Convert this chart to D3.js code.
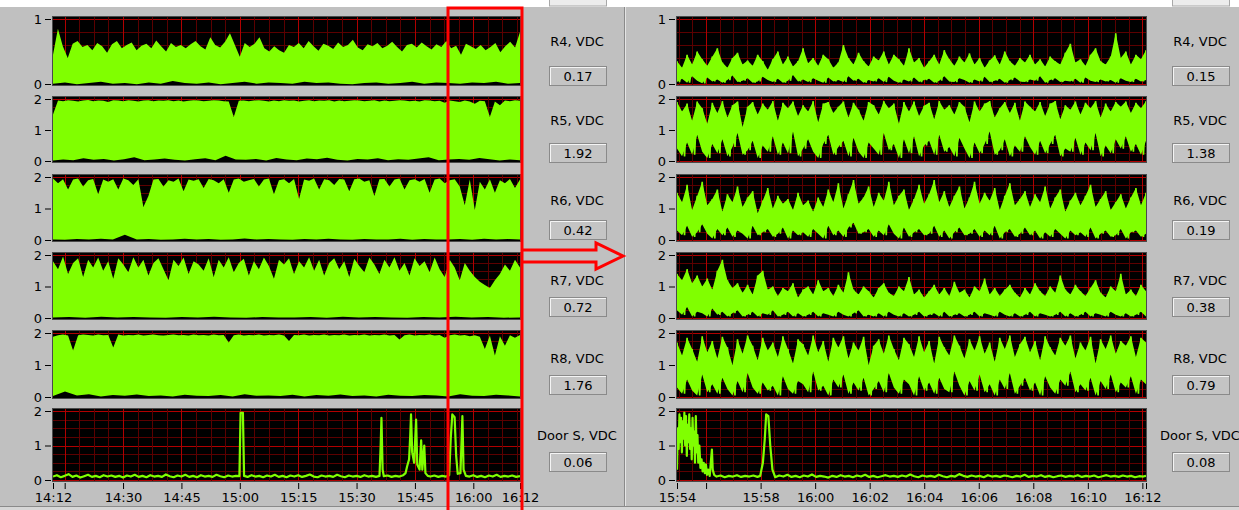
<!DOCTYPE html>
<html><head><meta charset="utf-8">
<script src="https://cdn.jsdelivr.net/npm/d3@7"></script>
<style>
html,body{margin:0;padding:0;background:#c0c0c0;overflow:hidden}
svg{display:block;font-family:"DejaVu Sans",sans-serif}
</style></head><body>
<svg id="chart" width="1239" height="510"></svg>
<script>
// ---------------- DATA ----------------
const seriesNames = ["R4, VDC","R5, VDC","R6, VDC","R7, VDC","R8, VDC","Door S, VDC"];
const leftReadings  = ["0.17","1.92","0.42","0.72","1.76","0.06"];
const rightReadings = ["0.15","1.38","0.19","0.38","0.79","0.08"];
const yMaxes = [1,2,2,2,2,2];
const leftTickLabels  = ["14:12","14:30","14:45","15:00","15:15","15:30","15:45","16:00","16:12"];
const rightTickLabels = ["15:54","15:58","16:00","16:02","16:04","16:06","16:08","16:10","16:12"];

// left (14:12 - 16:12) envelopes: upper edge of green, and black specks at the floor
const r4LeftHi = [0.45,0.85,0.58,0.40,0.62,0.66,0.57,0.60,0.52,0.63,0.58,0.48,0.61,0.66,0.55,0.60,0.64,0.52,0.59,0.62,0.55,0.67,0.58,0.50,0.63,0.57,0.60,0.55,0.61,0.66,0.58,0.53,0.72,0.60,0.56,0.65,0.78,0.60,0.42,0.63,0.57,0.62,0.72,0.55,0.50,0.58,0.52,0.48,
0.60,0.57,0.63,0.55,0.66,0.58,0.51,0.62,0.59,0.54,0.64,0.57,0.60,0.68,0.56,0.52,0.61,0.58,0.63,0.55,0.59,0.65,0.57,0.50,0.60,0.62,0.56,0.64,0.58,0.53,0.61,0.57,0.66,0.55,0.59,0.45,0.62,0.58,0.54,0.60,0.52,0.57,0.63,0.49,0.58,0.65,0.56,0.80];
const r4LeftLo = [0.02,0.04,0.01,0.03,0.05,0.02,0.03,0.01,0.04,0.02,0.06,0.03,0.02,0.04,0.01,0.03,0.05,0.02,0.04,0.03,0.02,0.05,0.03,0.04,0.02,0.01,0.03,0.04,0.02,0.03,0.05,0.02,0.04,0.03,0.02,0.04,0.03,0.05,0.02,0.03];
const r5LeftHi = [1.50,1.95,1.93,1.96,1.94,1.92,1.95,1.97,1.93,1.95,1.94,1.90,1.96,1.95,1.93,1.96,1.94,1.92,1.95,1.96,1.93,1.95,1.94,1.96,1.93,1.95,1.92,1.94,1.96,1.95,1.93,1.94,1.96,1.95,1.93,1.92,1.42,1.94,1.95,1.93,1.95,1.96,1.94,1.92,1.95,1.93,1.96,1.94,1.95,1.92,
1.94,1.96,1.93,1.95,1.94,1.96,1.92,1.95,1.93,1.94,1.96,1.95,1.93,1.94,1.96,1.92,1.95,1.93,1.94,1.96,1.95,1.93,1.94,1.92,1.96,1.95,1.93,1.94,1.88,1.95,1.93,1.90,1.95,1.92,1.85,1.94,1.93,1.42,1.92,1.80,1.95,1.93,1.96,1.94];
const r5LeftLo = [0.05,0.08,0.06,0.12,0.07,0.10,0.05,0.09,0.15,0.06,0.08,0.11,0.07,0.05,0.09,0.12,0.06,0.20,0.08,0.07,0.10,0.05,0.13,0.08,0.06,0.11,0.09,0.14,0.07,0.05,0.10,0.08,0.12,0.06,0.09,0.07,0.11,0.15,0.06,0.08,0.10,0.07,0.13,0.09,0.05,0.08,0.06];
const r6LeftHi = [1.95,1.80,1.93,1.60,1.92,1.95,1.70,1.90,1.94,1.45,1.92,1.85,1.93,1.60,1.95,1.90,1.75,1.93,1.05,1.40,1.92,1.94,1.70,1.90,1.85,1.95,1.55,1.92,1.88,1.93,1.65,1.94,1.90,1.80,1.93,1.50,1.92,1.95,1.85,1.90,1.94,1.70,1.92,1.95,1.45,1.90,1.93,1.80,1.94,1.30,
1.92,1.88,1.95,1.60,1.93,1.90,1.75,1.94,1.92,1.55,1.93,1.95,1.85,1.90,1.40,1.93,1.94,1.70,1.92,1.95,1.60,1.90,1.93,1.85,1.94,1.50,1.92,1.95,1.80,1.90,1.93,1.70,1.10,1.92,0.95,1.85,1.60,1.93,1.50,1.90,1.80,1.94,1.65,1.92];
const r6LeftLo = [0.05,0.04,0.06,0.05,0.07,0.05,0.20,0.05,0.06,0.04,0.05,0.07,0.05,0.06,0.04,0.05,0.08,0.05,0.06,0.05,0.04,0.06,0.05,0.07,0.05,0.04,0.06,0.05,0.05,0.07,0.04,0.06,0.05,0.05,0.06,0.04,0.07,0.05,0.06,0.05];
const r7LeftHi = [1.80,1.55,1.95,1.40,1.75,1.90,1.30,1.85,1.60,1.92,1.50,1.80,1.25,1.90,1.70,1.45,1.93,1.60,1.85,1.35,1.75,1.90,1.55,1.20,1.85,1.65,1.92,1.40,1.80,1.70,1.50,1.90,1.30,1.85,1.60,1.93,1.45,1.75,1.88,1.35,1.80,1.55,1.92,1.65,1.25,1.85,1.70,1.90,1.40,1.80,
1.60,1.93,1.50,1.85,1.35,1.75,1.90,1.55,1.80,1.30,1.88,1.65,1.45,1.92,1.70,1.40,1.85,1.60,1.93,1.50,1.75,1.35,1.90,1.65,1.80,1.45,1.92,1.55,1.30,1.85,1.60,1.20,1.75,1.50,1.30,1.15,1.05,0.95,1.20,1.40,1.70,1.50,1.85,1.60];
const r7LeftLo = [0.05,0.06,0.04,0.07,0.05,0.06,0.05,0.04,0.06,0.05,0.07,0.05,0.04,0.06,0.05,0.05,0.06,0.04,0.07,0.05,0.06,0.05,0.04,0.06,0.05,0.07,0.05,0.06,0.04,0.05];
const r8LeftHi = [1.88,1.93,1.95,1.92,1.45,1.93,1.95,1.94,1.92,1.95,1.93,1.94,1.55,1.95,1.92,1.94,1.93,1.95,1.92,1.94,1.95,1.93,1.92,1.94,1.95,1.93,1.94,1.92,1.95,1.93,1.94,1.92,1.95,1.93,1.94,1.70,1.93,1.95,1.92,1.94,1.93,1.95,1.92,1.94,1.93,1.95,1.92,1.75,1.94,1.93,
1.95,1.92,1.94,1.93,1.95,1.92,1.94,1.93,1.95,1.92,1.94,1.93,1.95,1.92,1.94,1.93,1.95,1.92,1.94,1.80,1.93,1.95,1.92,1.94,1.93,1.95,1.92,1.94,1.85,1.93,1.95,1.92,1.94,1.90,1.93,1.88,1.50,1.92,1.30,1.90,1.60,1.93,1.85,1.94];
const r8LeftLo = [0.06,0.20,0.08,0.12,0.05,0.09,0.07,0.11,0.06,0.08,0.05,0.10,0.07,0.06,0.09,0.05,0.12,0.07,0.08,0.06,0.10,0.05,0.09,0.07,0.11,0.06,0.08,0.05,0.10,0.07,0.06,0.09,0.08,0.05,0.12,0.07,0.06,0.10,0.08,0.05];
// Door S left: [minutes after 14:12, volts]
const doorLeft = [[0,0.10],[1,0.14],[2,0.08],[3,0.12],[4,0.17],[5,0.09],[6,0.13],[7,0.07],[8,0.11],[9,0.15],
[10,0.09],[11,0.12],[12,0.08],[13,0.14],[14,0.10],[15,0.13],[16,0.09],[17,0.12],[18,0.07],[19,0.13],
[20,0.10],[21,0.15],[22,0.09],[23,0.12],[24,0.08],[25,0.14],[26,0.10],[27,0.12],[28,0.09],[29,0.16],
[30,0.11],[31,0.08],[32,0.13],[33,0.10],[34,0.15],[35,0.09],[36,0.12],[37,0.08],[38,0.14],[39,0.10],
[40,0.12],[41,0.09],[42,0.15],[43,0.11],[44,0.08],[45,0.13],[46,0.10],[47,0.12],[47.9,0.11],[48.2,1.95],[48.8,1.95],[49.1,0.12],
[50,0.09],[51,0.14],[52,0.10],[53,0.12],[54,0.08],[55,0.13],[56,0.10],[57,0.15],[58,0.09],[59,0.12],
[60,0.08],[61,0.13],[62,0.10],[63,0.14],[64,0.09],[65,0.12],[66,0.16],[67,0.10],[68,0.08],[69,0.13],
[70,0.10],[71,0.12],[72,0.09],[73,0.15],[74,0.11],[75,0.08],[76,0.13],[77,0.10],[78,0.12],[79,0.09],
[80,0.14],[81,0.10],[82,0.12],[83,0.09],[83.9,0.12],[84.2,1.0],[84.4,1.8],[84.7,0.3],[85.0,0.11],
[86,0.13],[87,0.09],[88,0.12],[89,0.10],[90,0.14],[90.6,0.2],[91.0,0.4],[91.5,0.6],[91.8,1.3],[92.0,1.9],[92.3,0.8],[92.8,0.5],[93.3,1.75],[93.6,0.45],[94.2,0.3],[94.6,1.15],[94.9,0.3],[95.4,1.0],[95.7,0.2],[96.3,0.12],
[97,0.10],[98,0.13],[99,0.09],[100,0.12],[101,0.10],[101.8,0.14],[102.2,1.2],[102.6,1.9],[103.2,1.82],[103.6,0.7],[104.0,0.18],[104.7,0.2],[105.2,1.85],[105.5,0.3],[106.1,0.12],
[107,0.10],[108,0.14],[109,0.09],[110,0.12],[111,0.08],[112,0.13],[113,0.10],[114,0.15],[115,0.09],[116,0.12],[117,0.10],[118,0.13],[119,0.09],[120,0.11]];

// right (15:54:56 - 16:12:08) envelopes: max and min of the fast signal
const r4RightHi = [0.35,0.25,0.45,0.30,0.50,0.38,0.28,0.42,0.55,0.33,0.25,0.40,0.48,0.30,0.36,0.28,0.45,0.35,0.22,0.38,0.50,0.30,0.42,0.27,0.35,0.55,0.32,0.40,0.28,0.45,0.38,0.25,0.33,0.60,0.40,0.30,0.48,0.35,0.27,0.42,0.36,0.50,0.30,0.45,0.38,0.28,0.55,0.33,0.40,0.25,
0.35,0.45,0.30,0.52,0.38,0.28,0.42,0.33,0.47,0.30,0.40,0.25,0.36,0.44,0.30,0.50,0.35,0.28,0.40,0.33,0.45,0.30,0.38,0.27,0.42,0.35,0.30,0.48,0.62,0.33,0.38,0.28,0.45,0.55,0.35,0.30,0.42,0.78,0.40,0.50,0.30,0.45,0.38,0.52];
const r4RightLo = [0.03,0.08,0.02,0.12,0.05,0.01,0.10,0.04,0.07,0.02,0.06,0.13,0.03,0.05,0.09,0.02,0.04,0.11,0.06,0.03,0.08,0.02,0.05,0.14,0.04,0.07,0.03,0.09,0.05,0.02,0.10,0.04,0.06,0.03,0.12,0.05,0.08,0.02,0.06,0.04,0.09,0.03,0.11,0.05,0.02,0.07,0.04,0.10,0.03,0.06,
0.08,0.02,0.05,0.12,0.04,0.03,0.09,0.06,0.02,0.07,0.04,0.11,0.03,0.05,0.08,0.02,0.06,0.10,0.04,0.03,0.07,0.05,0.12,0.02,0.06,0.09,0.03,0.05,0.04,0.08,0.02,0.10,0.05,0.03,0.07,0.04,0.06,0.02,0.09,0.05,0.03,0.08,0.04,0.06];
const r5RightHi = [1.90,1.60,1.85,1.30,1.92,1.70,1.20,1.88,1.55,1.93,1.40,1.80,1.92,1.10,1.75,1.90,1.50,1.85,1.65,1.93,1.30,1.88,1.70,1.92,1.45,1.80,1.60,1.93,1.25,1.85,1.90,1.55,1.75,1.92,1.40,1.88,1.65,1.30,1.90,1.80,1.50,1.93,1.70,1.85,1.20,1.90,1.60,1.92,1.45,1.78,
1.88,1.35,1.93,1.65,1.80,1.50,1.90,1.75,1.25,1.92,1.60,1.85,1.93,1.40,1.70,1.90,1.55,1.88,1.30,1.92,1.75,1.60,1.90,1.45,1.85,1.93,1.35,1.80,1.65,1.92,1.50,1.88,1.70,1.93,1.40,1.85,1.60,1.90,1.75,1.92,1.55,1.88,1.70,1.93];
const r5RightLo = [0.40,0.15,0.60,0.20,0.85,0.30,0.10,0.55,0.25,0.70,0.15,0.45,0.90,0.20,0.35,0.65,0.10,0.50,0.30,0.80,0.20,0.60,0.25,0.95,0.15,0.40,0.70,0.30,0.10,0.55,0.85,0.20,0.45,0.65,0.15,0.75,0.30,0.10,0.60,0.40,0.20,0.90,0.35,0.55,0.10,0.70,0.25,0.80,0.15,0.50,
0.65,0.20,0.85,0.30,0.45,0.15,0.75,0.40,0.10,0.60,0.25,0.55,0.95,0.20,0.35,0.70,0.15,0.50,0.30,0.80,0.45,0.20,0.65,0.25,0.55,0.85,0.15,0.40,0.30,0.75,0.20,0.60,0.35,0.90,0.15,0.50,0.25,0.70,0.40,0.80,0.30,0.55,0.20,0.65];
const r6RightHi = [1.50,1.20,1.75,0.95,1.40,1.85,1.10,1.30,1.60,0.90,1.45,1.20,1.70,1.05,1.35,1.55,0.85,1.25,1.65,1.00,1.40,1.15,1.30,0.95,1.50,1.10,1.25,0.90,1.35,1.05,1.60,1.20,1.80,1.00,1.45,1.90,1.15,1.35,1.70,1.05,1.50,1.25,1.85,1.10,1.40,1.60,0.95,1.30,1.75,1.15,
1.45,1.90,1.20,1.55,1.05,1.40,1.70,1.00,1.35,1.85,1.15,1.50,1.25,1.65,0.95,1.40,1.80,1.10,1.30,1.55,1.05,1.45,1.20,1.70,1.00,1.35,1.60,0.90,1.25,1.50,1.10,1.40,1.75,1.05,1.30,1.55,0.95,1.20,1.45,1.00,1.35,1.65,1.10,1.50];
const r6RightLo = [0.30,0.15,0.45,0.10,0.25,0.50,0.20,0.05,0.35,0.15,0.40,0.10,0.30,0.20,0.05,0.45,0.15,0.25,0.35,0.10,0.20,0.40,0.05,0.30,0.15,0.25,0.10,0.35,0.20,0.05,0.45,0.15,0.30,0.10,0.40,0.55,0.20,0.25,0.35,0.10,0.30,0.15,0.50,0.20,0.05,0.40,0.10,0.25,0.35,0.15,
0.20,0.45,0.10,0.30,0.05,0.25,0.40,0.15,0.20,0.35,0.10,0.30,0.15,0.45,0.05,0.25,0.35,0.10,0.20,0.40,0.15,0.30,0.05,0.25,0.10,0.35,0.20,0.05,0.30,0.15,0.25,0.10,0.40,0.05,0.20,0.30,0.10,0.15,0.35,0.05,0.25,0.30,0.10,0.20];
const r7RightHi = [1.40,1.20,1.55,1.10,1.35,1.00,1.25,0.90,1.50,1.85,1.20,0.95,1.10,0.80,1.05,0.75,1.35,1.50,0.90,1.00,0.70,0.95,0.85,1.10,0.65,0.90,1.00,0.75,1.20,0.85,0.95,0.70,1.05,0.80,1.45,0.90,0.75,1.00,0.85,0.65,0.95,1.10,0.80,0.70,1.00,0.85,1.30,0.75,0.90,0.65,
0.85,1.05,0.75,0.95,0.70,1.15,0.80,0.90,0.65,1.00,0.85,1.25,0.75,0.95,0.70,0.90,1.05,0.80,0.65,0.95,0.75,1.10,0.85,0.70,1.00,0.80,1.35,0.90,0.75,1.05,0.85,0.70,0.95,1.20,0.80,0.65,1.00,0.85,1.40,0.75,0.90,0.70,1.05,0.85];
const r7RightLo = [0.25,0.10,0.35,0.05,0.20,0.15,0.05,0.30,0.10,0.20,0.05,0.15,0.25,0.05,0.10,0.20,0.05,0.15,0.10,0.25,0.05,0.10,0.20,0.05,0.15,0.05,0.10,0.20,0.05,0.15,0.10,0.05,0.20,0.10,0.05,0.15,0.25,0.05,0.10,0.05,0.15,0.05,0.20,0.10,0.05,0.15,0.05,0.10,0.20,0.05,
0.10,0.15,0.05,0.20,0.05,0.10,0.15,0.05,0.10,0.20,0.05,0.15,0.10,0.05,0.20,0.10,0.05,0.15,0.05,0.10,0.20,0.05,0.15,0.10,0.05,0.10,0.20,0.05,0.15,0.05,0.10,0.20,0.05,0.15,0.10,0.05,0.20,0.10,0.05,0.15,0.05,0.10,0.20,0.05];
const r8RightHi = [1.70,1.30,1.85,1.50,1.10,1.90,1.40,1.75,1.20,1.88,1.55,1.00,1.80,1.35,1.92,1.60,1.15,1.85,1.45,1.70,1.25,1.90,1.50,1.05,1.80,1.65,1.30,1.92,1.40,1.75,1.10,1.85,1.55,1.90,1.20,1.70,1.45,1.88,1.00,1.60,1.80,1.35,1.92,1.50,1.15,1.85,1.65,1.25,1.90,1.40,
1.75,1.05,1.88,1.55,1.30,1.92,1.60,1.20,1.80,1.45,1.90,1.35,1.70,1.10,1.85,1.50,1.92,1.25,1.65,1.88,1.40,1.75,1.15,1.90,1.55,1.30,1.85,1.60,1.92,1.20,1.70,1.45,1.88,1.05,1.80,1.50,1.92,1.35,1.75,1.60,1.90,1.25,1.85,1.70];
const r8RightLo = [0.30,0.10,0.55,0.20,0.05,0.70,0.15,0.40,0.10,0.60,0.25,0.05,0.50,0.15,0.75,0.30,0.10,0.45,0.20,0.35,0.05,0.65,0.25,0.10,0.50,0.40,0.15,0.80,0.20,0.35,0.05,0.55,0.30,0.70,0.10,0.45,0.20,0.60,0.05,0.25,0.50,0.15,0.75,0.30,0.10,0.55,0.40,0.05,0.65,0.20,
0.45,0.10,0.60,0.25,0.15,0.80,0.35,0.05,0.50,0.20,0.70,0.15,0.40,0.05,0.55,0.25,0.75,0.10,0.35,0.60,0.20,0.45,0.05,0.65,0.30,0.10,0.55,0.35,0.80,0.15,0.40,0.20,0.60,0.05,0.50,0.25,0.70,0.15,0.45,0.30,0.65,0.10,0.55,0.40];
// Door S right: [minutes after 15:54:56, volts]
const doorRight = [[0,0.3],[0.03,1.5],[0.06,0.9],[0.09,1.9],[0.12,1.1],[0.15,1.8],[0.18,0.8],[0.21,1.7],[0.24,1.2],[0.27,1.95],[0.30,1.0],[0.33,1.85],[0.36,0.7],[0.39,1.6],[0.42,1.1],[0.45,1.9],[0.48,0.9],[0.51,1.5],[0.54,0.6],[0.57,1.8],[0.60,1.0],[0.63,1.4],[0.66,0.5],[0.69,1.85],[0.72,0.8],[0.75,1.3],[0.78,0.5],[0.82,1.0],[0.86,0.35],[0.90,0.6],[0.94,0.25],[0.98,0.5],[1.02,0.2],[1.06,0.45],[1.10,0.15],[1.14,0.3],[1.20,0.12],[1.25,0.6],[1.28,0.88],[1.31,0.3],[1.36,0.15],[1.45,0.10],[1.6,0.13],[1.75,0.08],[1.9,0.12],[2.05,0.10],[2.2,0.14],[2.35,0.09],[2.5,0.12],[2.65,0.10],[2.8,0.13],[2.95,0.09],[3.05,0.12],[3.15,0.5],[3.22,1.2],[3.27,1.9],[3.35,1.85],[3.42,1.0],[3.5,0.3],[3.6,0.08],[3.75,0.13],[3.9,0.10],[4.05,0.15],[4.2,0.09],[4.35,0.12],[4.5,0.08],[4.65,0.13],[4.8,0.10],[4.95,0.16],[5.1,0.09],[5.25,0.12],[5.4,0.10],[5.55,0.07],[5.7,0.12],[5.85,0.09],[6.0,0.14],[6.15,0.10],[6.3,0.12],[6.45,0.08],[6.6,0.13],[6.75,0.10],[6.9,0.15],[7.05,0.09],[7.2,0.12],[7.35,0.08],[7.5,0.11],[7.65,0.14],[7.8,0.10],[7.95,0.12],[8.1,0.09],[8.25,0.13],[8.4,0.10],[8.55,0.16],[8.7,0.11],[8.85,0.08],[9.0,0.13],[9.15,0.10],[9.3,0.12],[9.45,0.09],[9.6,0.15],[9.75,0.11],[9.9,0.08],[10.05,0.12],[10.2,0.10],[10.35,0.17],[10.5,0.12],[10.65,0.09],[10.8,0.13],[10.95,0.10],[11.1,0.12],[11.25,0.08],[11.4,0.14],[11.55,0.10],[11.7,0.12],[11.85,0.09],[12.0,0.13],[12.15,0.11],[12.3,0.08],[12.45,0.12],[12.6,0.10],[12.75,0.15],[12.9,0.09],[13.05,0.12],[13.2,0.10],[13.35,0.14],[13.5,0.09],[13.65,0.12],[13.8,0.08],[13.95,0.11],[14.1,0.13],[14.25,0.09],[14.4,0.12],[14.55,0.10],[14.7,0.14],[14.85,0.09],[15.0,0.12],[15.15,0.10],[15.3,0.13],[15.45,0.08],[15.6,0.11],[15.75,0.14],[15.9,0.10],[16.05,0.12],[16.2,0.09],[16.35,0.13],[16.5,0.10],[16.65,0.12],[16.8,0.08],[16.95,0.11],[17.1,0.10],[17.2,0.12]];

// ---------------- LAYOUT ----------------
const W = 1239, H = 510;
const GREEN = "#80ff00";
const panelY = [[19,84],[99,161],[177,240],[255,318],[333,397],[411,480]]; // pixel of max, pixel of 0
const labelY = [41,120,200,280,358,435];
const boxY = [66,143,220,297,375,452];
const D = (h,m,s) => new Date(2020,0,1,h,m,s||0);

const charts = [
  { start: D(14,12), end: D(16,12), px: [53,520], labelX: 577, boxX: 549,
    hi: [r4LeftHi,r5LeftHi,r6LeftHi,r7LeftHi,r8LeftHi], lo: [r4LeftLo,r5LeftLo,r6LeftLo,r7LeftLo,r8LeftLo],
    mode: "fill", door: doorLeft, readings: leftReadings, tickLabels: leftTickLabels,
    majorEvery: d3.timeMinute.every(15), minorMs: 225000 },
  { start: D(15,54,56), end: D(16,12,8), px: [677,1146], labelX: 1200, boxX: 1172,
    hi: [r4RightHi,r5RightHi,r6RightHi,r7RightHi,r8RightHi], lo: [r4RightLo,r5RightLo,r6RightLo,r7RightLo,r8RightLo],
    mode: "signal", door: doorRight, readings: rightReadings, tickLabels: rightTickLabels,
    majorEvery: d3.timeMinute.every(2), minorMs: 30000 }
];

const svg = d3.select("#chart");
svg.append("rect").attr("width",W).attr("height",H).attr("fill","#c0c0c0");
const defs = svg.append("defs");

// top white strip (page above the screenshot) with the cut-off reading boxes
svg.append("rect").attr("width",W).attr("height",7).attr("fill","#ffffff");
[549,1172].forEach(bx => svg.append("rect").attr("x",bx+0.5).attr("y",-14).attr("width",57).attr("height",20)
  .attr("fill","#ececec").attr("stroke","#a8a8a8"));

// separator and bottom edge
svg.append("line").attr("x1",624.5).attr("x2",624.5).attr("y1",7).attr("y2",H).attr("stroke","#8a8a8a");
svg.append("line").attr("x1",625.5).attr("x2",625.5).attr("y1",7).attr("y2",H).attr("stroke","#e4e4e4");
svg.append("line").attr("x1",0).attr("x2",W).attr("y1",506.5).attr("y2",506.5).attr("stroke","#8a8a8a");
svg.append("rect").attr("x",0).attr("y",507).attr("width",W).attr("height",3).attr("fill","#d6d6d6");

charts.forEach((c, ci) => {
  const x = d3.scaleTime().domain([c.start, c.end]).range(c.px);
  const majors = c.majorEvery.range(c.start, c.end);
  const minors = [];
  for (let k = -20; k < 200; k++) {
    const t = new Date(+majors[0] + k * c.minorMs);
    if (t > c.start && t < c.end) minors.push(t);
  }
  for (let p = 0; p < 6; p++) {
    const [yt, yb] = panelY[p];
    const maxV = yMaxes[p];
    const y = d3.scaleLinear().domain([0, maxV]).range([yb, yt]);
    const g = svg.append("g");
    const x0 = c.px[0], x1 = c.px[1];
    const top = yt - 2, bot = yb + 1;
    const clipId = `clip${ci}_${p}`;
    defs.append("clipPath").attr("id", clipId).append("rect")
      .attr("x", x0).attr("y", top).attr("width", x1 - x0).attr("height", bot - top);
    g.append("rect").attr("x", x0).attr("y", top).attr("width", x1 - x0).attr("height", bot - top).attr("fill", "#000");
    const grid = g.append("g").attr("clip-path", `url(#${clipId})`);
    const hStep = maxV === 1 ? 0.2 : 0.25;
    d3.range(0, maxV + 1e-6, hStep).forEach(v => {
      const major = Math.abs(v - Math.round(v)) < 1e-6;
      grid.append("line").attr("x1", x0).attr("x2", x1).attr("y1", Math.round(y(v)) + 0.5).attr("y2", Math.round(y(v)) + 0.5)
        .attr("stroke", major ? "#b00000" : "#5c0000");
    });
    minors.forEach(t => grid.append("line").attr("x1", Math.round(x(t)) + 0.5).attr("x2", Math.round(x(t)) + 0.5)
      .attr("y1", top).attr("y2", bot).attr("stroke", "#5c0000"));
    majors.forEach(t => grid.append("line").attr("x1", Math.round(x(t)) + 0.5).attr("x2", Math.round(x(t)) + 0.5)
      .attr("y1", top).attr("y2", bot).attr("stroke", "#b00000"));

    const dataG = g.append("g").attr("clip-path", `url(#${clipId})`);
    if (p < 5) {
      const hi = c.hi[p], lo = c.lo[p];
      const n = hi.length;
      const tHi = i => new Date(+c.start + (c.end - c.start) * i / (n - 1));
      const tLo = i => new Date(+c.start + (c.end - c.start) * i / (lo.length - 1));
      if (c.mode === "fill") {
        dataG.append("path").attr("fill", GREEN)
          .attr("d", d3.area().x((d, i) => x(tHi(i))).y0(bot).y1(d => y(d))(hi));
        dataG.append("path").attr("fill", "#000")
          .attr("d", d3.area().x((d, i) => x(tLo(i))).y0(bot).y1(d => y(d) + 1)(lo));
      } else {
        // envelope of the fast signal, then the signal visiting each interval's max and min
        const band = hi.map((h, i) => [h, lo[i]]);
        dataG.append("path").attr("fill", GREEN)
          .attr("d", d3.area().x((d, i) => x(tHi(i))).y0(d => y(d[1])).y1(d => y(d[0]))(band));
        const pts = [];
        hi.forEach((h, i) => { pts.push([tHi(i), h]); if (i < n - 1) pts.push([tHi(i + 0.5), lo[i]]); });
        dataG.append("path").attr("fill", "none").attr("stroke", GREEN).attr("stroke-width", 1.6)
          .attr("stroke-linejoin", "bevel")
          .attr("d", d3.line().x(d => x(d[0])).y(d => y(d[1]))(pts));
      }
    } else {
      dataG.append("path").attr("fill", "none").attr("stroke", GREEN).attr("stroke-width", 2.2)
        .attr("stroke-linejoin", "round")
        .attr("d", d3.line().x(d => x(new Date(+c.start + d[0] * 60000))).y(d => y(d[1]))(c.door));
    }
    // frame
    g.append("rect").attr("x", x0 - 0.5).attr("y", top - 0.5).attr("width", x1 - x0 + 1).attr("height", bot - top + 1)
      .attr("fill", "none").attr("stroke", "#4a4a4a");

    // y axis
    const ya = d3.axisLeft(y).tickValues(d3.range(0, maxV + 1)).tickFormat(d3.format("d")).tickSize(6).tickPadding(3);
    const yg = svg.append("g").attr("transform", `translate(${x0 - 2},0)`).call(ya);
    yg.select(".domain").remove();
    yg.selectAll("line").attr("stroke", "#000");
    yg.selectAll("text").attr("font-size", 13).attr("font-family", "DejaVu Sans").attr("fill", "#000");

    // label and reading box
    svg.append("text").attr("x", c.labelX).attr("y", labelY[p]).attr("dy", "0.36em").attr("text-anchor", "middle")
      .attr("font-size", 13).attr("fill", "#000").text(seriesNames[p]);
    svg.append("rect").attr("x", c.boxX + 0.5).attr("y", boxY[p] + 0.5).attr("width", 57).attr("height", 19)
      .attr("fill", "#c4c4c4").attr("stroke", "#8a8a8a");
    svg.append("path").attr("d", `M${c.boxX + 1.5},${boxY[p] + 19}V${boxY[p] + 1.5}H${c.boxX + 57}`)
      .attr("fill", "none").attr("stroke", "#f4f4f4");
    svg.append("text").attr("x", c.boxX + 29).attr("y", boxY[p] + 10).attr("dy", "0.36em").attr("text-anchor", "middle")
      .attr("font-size", 13).attr("fill", "#000").text(c.readings[p]);
  }
  // x axis
  const tickVals = [c.start, ...majors, c.end];
  const fmt = d3.timeFormat("%H:%M");
  const xa = d3.axisBottom(x).tickValues(tickVals).tickSize(6).tickPadding(4)
    .tickFormat(d => { const s = fmt(d); return (c.tickLabels.includes(s) && !(+d === +c.end && ci === 1)) ? s : ""; });
  const xg = svg.append("g").attr("transform", `translate(0,${panelY[5][1] + 3})`).call(xa);
  xg.select(".domain").remove();
  xg.selectAll("line").attr("stroke", "#000");
  xg.selectAll("text").attr("font-size", 13).attr("font-family", "DejaVu Sans").attr("fill", "#000");
});

// red highlight box and arrow
svg.append("rect").attr("x", 448).attr("y", 8).attr("width", 74).attr("height", 510)
  .attr("fill", "none").attr("stroke", "#ff0000").attr("stroke-width", 3);
svg.append("path").attr("d", "M523,250H596V243L623,256L596,269V262H523")
  .attr("fill", "none").attr("stroke", "#ff0000").attr("stroke-width", 3).attr("stroke-linejoin", "miter");
</script>
</body></html>
